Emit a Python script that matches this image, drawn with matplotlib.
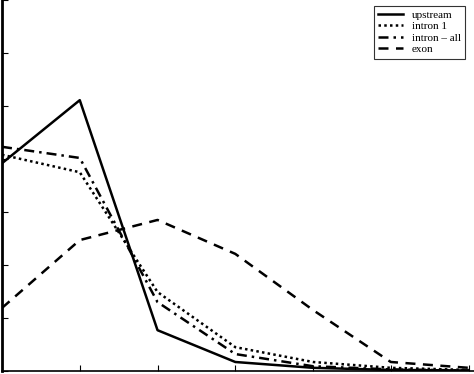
import matplotlib.pyplot as plt
import numpy as np

plt.rcParams['font.family'] = ['Liberation Serif', 'DejaVu Serif']

x = np.arange(7)
upstream = [3.92, 5.11, 0.77, 0.17, 0.06, 0.02, 0.01]
intron1 = [4.08, 3.75, 1.49, 0.45, 0.17, 0.06, 0.02]
intron_all = [4.23, 4.02, 1.30, 0.32, 0.09, 0.03, 0.01]
exon = [1.19, 2.47, 2.85, 2.21, 1.15, 0.17, 0.06]

fig = plt.figure(figsize=(4.74, 3.74), dpi=100)
ax = fig.add_axes([2/474, 3/374, 472/474, 371/374])

ax.plot(x, upstream, color='black', linestyle='-', linewidth=1.8, label='upstream')
ax.plot(x, intron1, color='black', linestyle=(0, (1, 1.3)), linewidth=1.8, label='intron 1')
ax.plot(x, intron_all, color='black', linestyle=(0, (4, 2, 1, 2)), linewidth=1.8, label='intron \u2013 all')
ax.plot(x, exon, color='black', linestyle=(0, (4, 3)), linewidth=1.8, label='exon')

ax.set_xlim(0, 6.07)
ax.set_ylim(0, 7)
ax.set_xticks(range(7))
ax.set_yticks(range(8))
ax.tick_params(direction='in', length=4, width=0.8, labelleft=False, labelbottom=False)
ax.spines['top'].set_visible(False)
ax.spines['right'].set_visible(False)
ax.spines['left'].set_linewidth(2)
ax.spines['bottom'].set_linewidth(1.2)

leg = ax.legend(loc='upper right', bbox_to_anchor=(0.993, 1.0), fontsize=8,
                frameon=True, fancybox=False, edgecolor='black', handlelength=2.2,
                borderpad=0.4, labelspacing=0.15, handletextpad=0.8)
leg.get_frame().set_linewidth(0.8)

plt.savefig('out.png', dpi=100)
